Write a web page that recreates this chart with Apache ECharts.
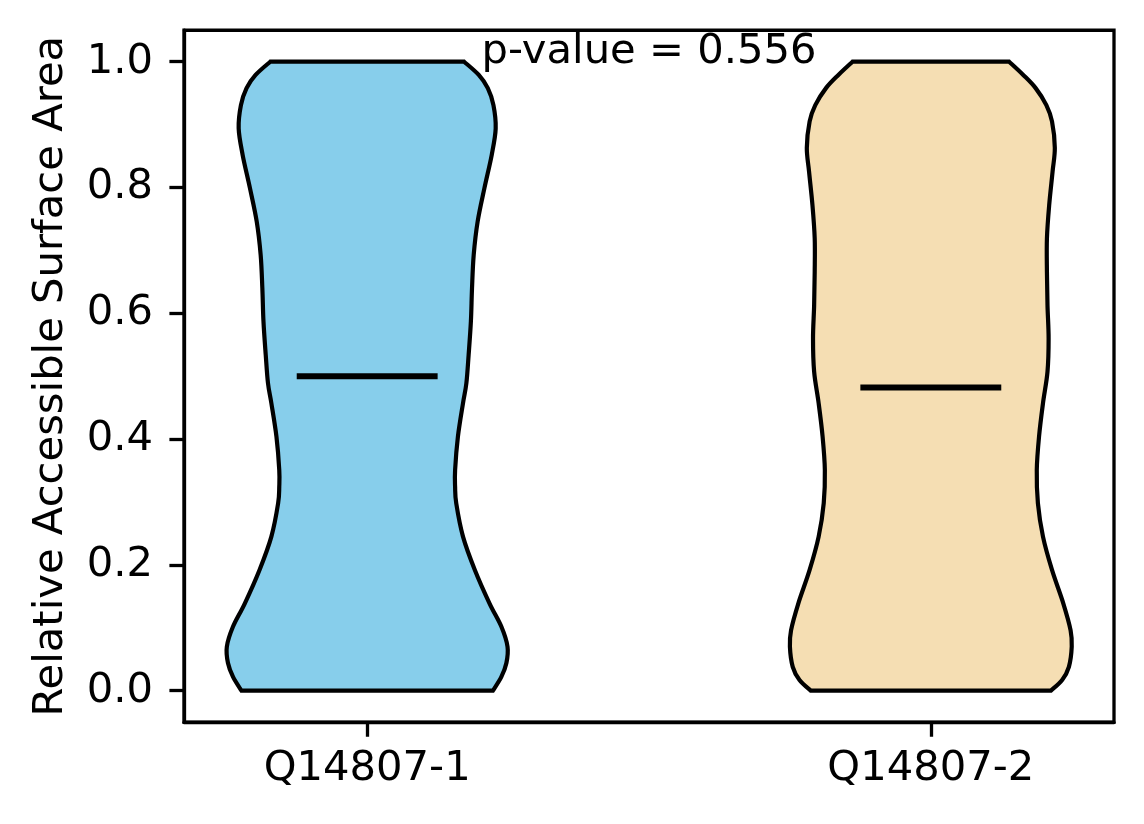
<!DOCTYPE html>
<html>
<head>
<meta charset="utf-8">
<script src="https://cdn.jsdelivr.net/npm/echarts@6/dist/echarts.min.js"></script>
<style>
html,body{margin:0;padding:0;background:#fff;}
#chart{width:1144px;height:824px;}
</style>
</head>
<body>
<div id="chart"></div>
<script>
// ---- data ----
const categories = ['Q14807-1', 'Q14807-2'];
const positions = [1, 2];
const means = [0.500, 0.482];
const colors = ['#87CEEB', '#F5DEB3'];
const yTicks = [0, 0.2, 0.4, 0.6, 0.8, 1.0];
const pValueText = 'p-value = 0.556';

// violin outline: values (y) and half-widths (x-axis units)
const violin1Y  = [0, 0.022, 0.044, 0.070, 0.102, 0.139, 0.192, 0.245, 0.298, 0.324, 0.351, 0.404, 0.457, 0.489, 0.534, 0.587, 0.640, 0.693, 0.746, 0.799, 0.852, 0.894, 0.931, 0.958, 0.979, 1.0];
const violin1HW = [0.223, 0.238, 0.247, 0.249, 0.238, 0.217, 0.191, 0.170, 0.158, 0.156, 0.156, 0.161, 0.170, 0.176, 0.180, 0.184, 0.186, 0.189, 0.196, 0.208, 0.221, 0.228, 0.224, 0.214, 0.198, 0.172];
const violin2Y  = [0, 0.017, 0.038, 0.070, 0.096, 0.139, 0.192, 0.245, 0.298, 0.351, 0.404, 0.457, 0.507, 0.560, 0.613, 0.666, 0.719, 0.772, 0.825, 0.863, 0.905, 0.931, 0.958, 0.979, 1.0];
const violin2HW = [0.213, 0.233, 0.245, 0.250, 0.248, 0.235, 0.215, 0.199, 0.190, 0.188, 0.192, 0.199, 0.207, 0.209, 0.207, 0.206, 0.206, 0.210, 0.216, 0.220, 0.215, 0.205, 0.186, 0.164, 0.139];

const profilesY = [violin1Y, violin2Y];
const profilesHW = [violin1HW, violin2HW];
const meanHalfLen = 0.125;

const FONT = 'DejaVu Sans';
const FS = 41.7;

function smoothPath(pts, startWithMove) {
  let d = (startWithMove ? 'M' : 'L') + pts[0][0] + ' ' + pts[0][1];
  const n = pts.length;
  for (let i = 0; i < n - 1; i++) {
    const p0 = pts[Math.max(0, i - 1)];
    const p1 = pts[i];
    const p2 = pts[i + 1];
    const p3 = pts[Math.min(n - 1, i + 2)];
    const c1x = p1[0] + (p2[0] - p0[0]) / 6, c1y = p1[1] + (p2[1] - p0[1]) / 6;
    const c2x = p2[0] - (p3[0] - p1[0]) / 6, c2y = p2[1] - (p3[1] - p1[1]) / 6;
    d += ' C' + c1x + ' ' + c1y + ' ' + c2x + ' ' + c2y + ' ' + p2[0] + ' ' + p2[1];
  }
  return d;
}

const chart = echarts.init(document.getElementById('chart'), null, {renderer: 'canvas'});

const option = {
  backgroundColor: '#fff',
  animation: false,
  grid: {
    left: 184, right: 30, top: 30.25, bottom: 101.85,
    show: true, borderColor: '#000', borderWidth: 3.3, backgroundColor: 'transparent'
  },
  xAxis: {
    type: 'value', min: 0.675, max: 2.325,
    splitLine: {show: false},
    axisLine: {show: true, onZero: false, lineStyle: {color: '#000', width: 3.3}},
    axisTick: {show: true, customValues: positions, length: 14.6, lineStyle: {color: '#000', width: 3.3}},
    axisLabel: {
      customValues: positions, margin: 26, color: '#000', fontFamily: FONT, fontSize: FS,
      formatter: v => categories[positions.indexOf(v)] || ''
    }
  },
  yAxis: {
    type: 'value', min: -0.05, max: 1.05,
    name: 'Relative Accessible Surface Area', nameLocation: 'middle', nameGap: 112,
    nameTextStyle: {color: '#000', fontFamily: FONT, fontSize: FS},
    splitLine: {show: false},
    axisLine: {show: true, onZero: false, lineStyle: {color: '#000', width: 3.3}},
    axisTick: {show: true, customValues: yTicks, length: 14.6, lineStyle: {color: '#000', width: 3.3}},
    axisLabel: {
      customValues: yTicks, margin: 31, color: '#000', fontFamily: FONT, fontSize: FS,
      formatter: v => Number(v).toFixed(1)
    }
  },
  series: [{
    type: 'custom',
    coordinateSystem: 'cartesian2d',
    clip: false,
    data: positions.map((p, i) => [p, means[i]]),
    renderItem: function (params, api) {
      const i = params.dataIndex;
      const c = positions[i];
      const ys = profilesY[i], hws = profilesHW[i];
      const left = ys.map((y, k) => api.coord([c - hws[k], y]));
      const right = ys.map((y, k) => api.coord([c + hws[k], y])).reverse();
      const d = smoothPath(left, true) + ' ' + smoothPath(right, false) + ' Z';
      const m1 = api.coord([c - meanHalfLen, means[i]]);
      const m2 = api.coord([c + meanHalfLen, means[i]]);
      return {
        type: 'group',
        children: [
          {type: 'path', shape: {pathData: d}, style: {fill: colors[i], stroke: '#000', lineWidth: 4.2, lineJoin: 'miter'}},
          {type: 'line', shape: {x1: m1[0], y1: m1[1], x2: m2[0], y2: m2[1]}, style: {stroke: '#000', lineWidth: 6}}
        ]
      };
    }
  }]
};
chart.setOption(option);

const tp = chart.convertToPixel({gridIndex: 0}, [1.5, 1.0]);
chart.setOption({
  graphic: [{
    type: 'text', x: tp[0], y: tp[1] - 9.7, z: 10,
    style: {text: pValueText, fill: '#000', font: FS + 'px "' + FONT + '"', align: 'center', verticalAlign: 'middle'}
  }]
});
</script>
</body>
</html>
